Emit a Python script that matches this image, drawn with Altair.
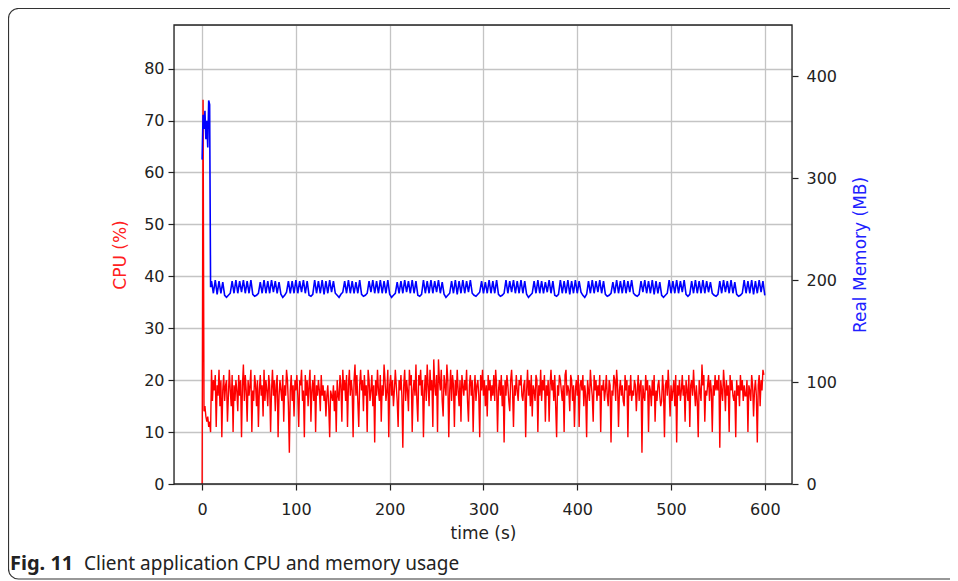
import altair as alt
import pandas as pd

# ---- data ----
start_t = [0, 1, 2, 3, 4, 5, 6, 7, 8, 9]
cpu_start = [0, 74, 14, 15, 13, 12, 13, 11, 12, 10]
mem_start = [318, 362, 348, 366, 338, 356, 330, 376, 372, 193]

cpu_t0, cpu_step = 10, 1
mem_t0, mem_step = 10, 2

cpu_steady = [
    22, 16, 20, 18, 21, 11, 19, 17, 22, 15, 20, 9, 18, 21, 16, 19, 20, 12, 17, 22, 18, 15, 21, 10, 19, 16, 20, 18, 14, 21,
    17, 20, 9, 19, 23, 16, 21, 18, 12, 20, 17, 19, 22, 10, 18, 16, 21, 19, 15, 20, 11, 18, 21, 17, 19, 13, 22, 16, 20, 18,
    15, 21, 19, 10, 18, 22, 17, 20, 14, 19, 21, 9, 17, 20, 18, 16, 21, 12, 19, 17, 22, 20, 15, 6, 18, 21, 16, 19, 13, 20,
    18, 21, 17, 11, 20, 19, 22, 16, 18, 9, 21, 17, 20, 15, 19, 22, 12, 18, 20, 16, 21, 10, 19, 17, 20, 18, 14, 21, 17, 19,
    16, 18, 13, 17, 19, 15, 9, 18, 17, 16, 19, 14, 18, 10, 20, 17, 16, 21, 19, 12, 22, 18, 20, 16, 21, 11, 19, 22, 17, 20,
    18, 9, 20, 23, 17, 21, 16, 11, 19, 22, 18, 20, 14, 21, 17, 19, 10, 22, 20, 16, 18, 21, 15, 19, 8, 20, 17, 22, 18, 16,
    21, 12, 19, 17, 23, 20, 16, 18, 22, 9, 19, 21, 17, 20, 15, 18, 22, 19, 16, 11, 20, 18, 21, 17, 7, 19, 22, 16, 20, 18,
    14, 22, 19, 21, 10, 18, 20, 17, 23, 16, 12, 21, 19, 22, 17, 20, 9, 18, 21, 16, 23, 19, 15, 22, 18, 20, 11, 24, 19, 17,
    21, 10, 24, 20, 18, 22, 16, 13, 21, 19, 17, 23, 20, 9, 18, 22, 16, 21, 19, 11, 20, 17, 22, 18, 15, 20, 12, 21, 19, 17,
    20, 18, 22, 16, 12, 19, 21, 17, 20, 10, 18, 21, 16, 19, 20, 17, 9, 21, 18, 22, 17, 20, 15, 19, 13, 21, 18, 20, 16, 19,
    17, 21, 16, 22, 19, 10, 18, 20, 17, 21, 15, 19, 8, 20, 17, 21, 19, 16, 14, 20, 22, 18, 11, 19, 17, 21, 18, 16, 20, 19,
    21, 17, 16, 19, 20, 9, 18, 22, 17, 20, 15, 21, 13, 19, 18, 16, 21, 20, 10, 19, 17, 22, 16, 20, 18, 21, 12, 19, 17, 20,
    12, 19, 22, 18, 20, 16, 21, 15, 9, 19, 17, 21, 20, 18, 16, 19, 10, 21, 22, 17, 19, 18, 14, 21, 20, 16, 19, 11, 18, 20,
    17, 21, 11, 19, 20, 18, 21, 15, 19, 17, 9, 20, 18, 16, 22, 19, 17, 12, 21, 18, 20, 16, 19, 17, 21, 10, 19, 18, 20, 16,
    18, 21, 17, 15, 20, 19, 8, 18, 17, 21, 20, 16, 22, 19, 11, 18, 20, 17, 19, 16, 15, 21, 18, 20, 9, 19, 17, 21, 16, 18,
    17, 20, 19, 14, 18, 21, 16, 19, 20, 6, 19, 17, 16, 21, 18, 20, 10, 19, 18, 15, 20, 17, 21, 12, 18, 16, 19, 20, 17, 15,
    16, 21, 18, 9, 19, 20, 17, 22, 18, 13, 19, 16, 18, 20, 15, 21, 8, 19, 17, 20, 16, 18, 21, 17, 19, 12, 20, 18, 16, 21,
    11, 19, 20, 17, 22, 18, 15, 19, 16, 9, 20, 18, 16, 23, 19, 21, 12, 18, 17, 19, 21, 16, 20, 18, 10, 19, 17, 21, 18, 20,
    18, 21, 7, 20, 18, 16, 22, 19, 14, 20, 17, 19, 10, 21, 18, 20, 17, 16, 18, 9, 20, 17, 19, 15, 21, 18, 20, 16, 19, 17,
    17, 20, 10, 19, 18, 16, 21, 19, 13, 18, 20, 17, 8, 19, 21, 15, 20, 18, 22, 21,
]

mem_steady = [
    199, 187, 200, 186, 199, 187, 198, 185, 183, 185, 187,
    199, 187, 200, 187, 199, 188, 200, 187, 199, 187, 200, 186, 184, 185, 187,
    198, 187, 200, 187, 199, 187, 200, 188, 199, 187, 198, 186, 183, 185, 188,
    199, 187, 199, 187, 200, 187, 199, 188, 200, 187, 199, 185, 184, 186,
    200, 187, 199, 187, 200, 186, 199, 187, 200, 188, 199, 187, 185, 183, 186, 188,
    199, 187, 200, 187, 199, 187, 198, 187, 200, 186, 184, 185, 187,
    199, 188, 200, 187, 199, 187, 200, 187, 199, 187, 200, 186, 183, 185, 187,
    198, 187, 199, 187, 200, 188, 199, 187, 200, 187, 199, 185, 184, 186,
    200, 187, 199, 187, 200, 187, 199, 188, 200, 187, 198, 186, 183, 185, 187,
    199, 187, 200, 186, 199, 187, 200, 187, 199, 188, 200, 187, 185, 184, 186, 188,
    199, 187, 198, 187, 200, 187, 199, 187, 200, 186, 184, 185, 187,
    200, 187, 199, 188, 200, 187, 199, 187, 200, 187, 199, 186, 183, 185, 187,
    199, 187, 200, 187, 199, 187, 198, 188, 200, 187, 199, 185, 184, 186,
    200, 187, 199, 187, 200, 186, 199, 187, 200, 187, 199, 188, 185, 183, 186,
    199, 187, 200, 187, 199, 188, 200, 187, 199, 186, 184, 185, 187,
    198, 187, 200, 187, 199, 187, 200, 187, 199, 188, 200, 187, 185, 184, 186,
    199, 188, 200, 187, 199, 187, 200, 186, 199, 187, 198, 185, 183, 185, 187,
    200, 187, 199, 187, 200, 187, 199, 188, 200, 186, 184, 186,
    199, 187, 200, 187, 199, 187, 200, 187, 199, 188, 198, 187, 185, 184, 186,
    199, 187, 200, 188, 199, 187, 200, 187, 198, 186, 184, 185, 187,
    200, 187, 199, 187, 200, 186, 199, 187, 200, 188, 199, 185,
]

x_ticks = [0, 100, 200, 300, 400, 500, 600]
cpu_ticks = [0, 10, 20, 30, 40, 50, 60, 70, 80]
mem_ticks = [0, 100, 200, 300, 400]

x_label = "time (s)"
cpu_label = "CPU (%)"
mem_label = "Real Memory (MB)"
caption_bold = "Fig. 11"
caption_text = "Client application CPU and memory usage"

# ---- build tables ----
cpu_df = pd.DataFrame({
    "t": start_t + [cpu_t0 + cpu_step * i for i in range(len(cpu_steady))],
    "cpu": cpu_start + cpu_steady,
})
mem_df = pd.DataFrame({
    "t": start_t + [mem_t0 + mem_step * i for i in range(len(mem_steady))],
    "mem": mem_start + mem_steady,
})

W, H = 618, 459
PAD_L, PAD_T = 166, 17
SVG_W, SVG_H = 942, 573

FONT = "DejaVu Sans"
GRID = "#c4c4c4"
x_scale = alt.Scale(domain=[-30, 629], nice=False, zero=False)

cpu_line = alt.Chart(cpu_df).mark_line(color="#ff0000", strokeWidth=1.4, clip=True).encode(
    x=alt.X("t:Q", scale=x_scale,
            axis=alt.Axis(values=x_ticks, title=x_label, grid=True,
                          gridColor=GRID, gridWidth=1.3,
                          tickSize=6, tickColor="#222", tickWidth=1.2,
                          labelFont=FONT, labelFontSize=16, labelColor="#222",
                          labelPadding=11, domain=False,
                          titleFont=FONT, titleFontSize=17,
                          titleFontWeight="normal", titleColor="#222",
                          titlePadding=8)),
    y=alt.Y("cpu:Q", scale=alt.Scale(domain=[0, 88.4], nice=False),
            axis=alt.Axis(values=cpu_ticks, title=cpu_label, orient="left",
                          grid=True, gridColor=GRID, gridWidth=1.3,
                          tickSize=6, tickColor="#222", tickWidth=1.2,
                          labelFont=FONT, labelFontSize=16, labelColor="#222",
                          labelPadding=4, domain=False,
                          titleFont=FONT, titleFontSize=17,
                          titleFontWeight="normal", titleColor="#ff2020",
                          titlePadding=14)),
)

mem_line = alt.Chart(mem_df).mark_line(color="#0000ff", strokeWidth=1.6, clip=True).encode(
    x=alt.X("t:Q", scale=x_scale),
    y=alt.Y("mem:Q", scale=alt.Scale(domain=[0, 450], nice=False),
            axis=alt.Axis(values=mem_ticks, title=mem_label, orient="right",
                          grid=False,
                          tickSize=6, tickColor="#222", tickWidth=1.2,
                          labelFont=FONT, labelFontSize=16, labelColor="#222",
                          labelPadding=8, domain=False,
                          titleFont=FONT, titleFontSize=17, titleAngle=270,
                          titleFontWeight="normal", titleColor="#2020ff",
                          titlePadding=33)),
)

one = pd.DataFrame({"k": [0]})

spines = alt.Chart(one).mark_rect(
    fillOpacity=0, stroke="#222", strokeWidth=1.3
).encode(
    x=alt.value(0), x2=alt.value(W), y=alt.value(0), y2=alt.value(H),
)

frame = alt.Chart(one).mark_rect(
    fillOpacity=0, stroke="#333", strokeWidth=1.2, cornerRadius=10
).encode(
    x=alt.value(-165.5), x2=alt.value(900),
    y=alt.value(-16.5), y2=alt.value(554),
)

cap1 = alt.Chart(one).mark_text(
    text=caption_bold, align="left", baseline="alphabetic",
    font="Noto Sans", fontSize=20, fontWeight="bold", color="#222"
).encode(x=alt.value(-164), y=alt.value(545))

cap2 = alt.Chart(one).mark_text(
    text=caption_text, align="left", baseline="alphabetic",
    font="Noto Sans", fontSize=19, color="#222"
).encode(x=alt.value(-90), y=alt.value(545))

chart = alt.layer(frame, cpu_line, mem_line, spines, cap1, cap2).resolve_scale(
    y="independent"
).properties(
    width=W, height=H,
    autosize=alt.AutoSizeParams(type="none"),
    padding={"left": PAD_L, "top": PAD_T,
             "right": SVG_W - PAD_L - W, "bottom": SVG_H - PAD_T - H},
).configure_view(
    stroke=None
).configure(background="white")

chart.save("out.html", embed_options={"renderer": "svg", "actions": False})
